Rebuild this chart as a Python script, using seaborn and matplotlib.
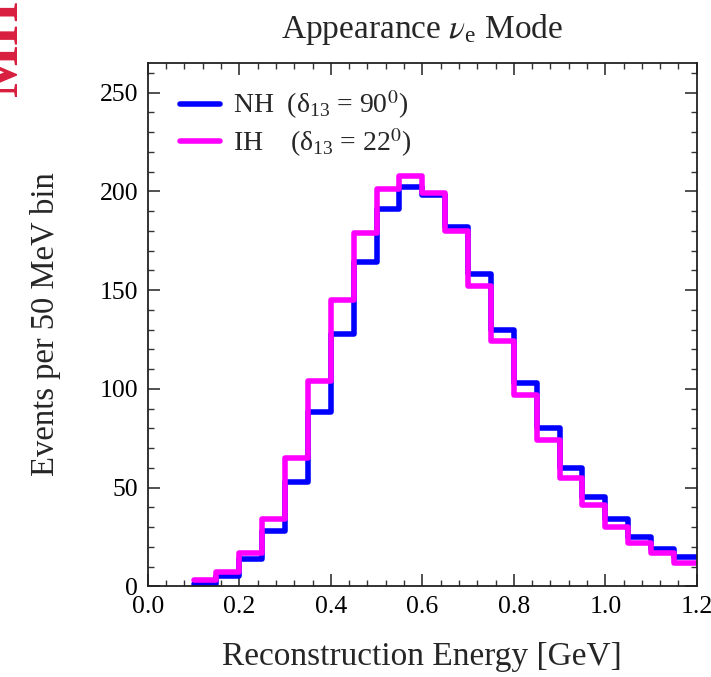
import numpy as np
import pandas as pd
import matplotlib
matplotlib.use("Agg")
import matplotlib.pyplot as plt
from matplotlib.ticker import MultipleLocator, FormatStrFormatter
import seaborn as sns

# bin edges of the reconstructed energy (GeV), 50 MeV bins
bin_edges = [0.10, 0.15, 0.20, 0.25, 0.30, 0.35, 0.40, 0.45, 0.50, 0.55, 0.60, 0.65,
             0.70, 0.75, 0.80, 0.85, 0.90, 0.95, 1.00, 1.05, 1.10, 1.15, 1.20]
bin_centers = [0.125, 0.175, 0.225, 0.275, 0.325, 0.375, 0.425, 0.475, 0.525, 0.575, 0.625,
               0.675, 0.725, 0.775, 0.825, 0.875, 0.925, 0.975, 1.025, 1.075, 1.125, 1.175]

nh_events = [1, 5, 14, 28, 53, 88, 128, 164, 191, 202, 198, 182,
             158, 130, 103, 80, 60, 45, 34, 25, 19, 15]
ih_events = [3, 7, 17, 34, 65, 104, 145, 179, 201, 208, 199, 180,
             152, 124, 97, 74, 55, 41, 30, 22, 17, 12]

nh_label = r"NH  ($\mathregular{\delta_{13}}$ = 90$^{0}$)"
ih_label = r"IH    ($\mathregular{\delta_{13}}$ = 22$^{0}$)"

sns.set_theme(style="ticks")
plt.rcParams["font.family"] = ["Liberation Serif", "DejaVu Serif"]
plt.rcParams["mathtext.fontset"] = "stix"

fig = plt.figure(figsize=(7.11, 6.77), dpi=100)
ax = fig.add_axes([0.208, 0.134, 0.772, 0.773])

nh = pd.DataFrame({"energy": bin_centers, "events": nh_events})
ih = pd.DataFrame({"energy": bin_centers, "events": ih_events})

sns.histplot(data=nh, x="energy", weights="events", bins=bin_edges, element="step",
             fill=False, color="#0000ff", linewidth=4, label=nh_label, ax=ax)
sns.histplot(data=ih, x="energy", weights="events", bins=bin_edges, element="step",
             fill=False, color="#ff00ff", linewidth=4, label=ih_label, ax=ax)

ax.set_xlim(0.0, 1.2)
ax.set_ylim(0, 265)
ax.xaxis.set_major_locator(MultipleLocator(0.2))
ax.xaxis.set_minor_locator(MultipleLocator(0.04))
ax.yaxis.set_major_locator(MultipleLocator(50))
ax.yaxis.set_minor_locator(MultipleLocator(10))
ax.xaxis.set_major_formatter(FormatStrFormatter("%.1f"))
ax.tick_params(which="both", direction="in", top=True, right=True, colors="#333333",
               labelcolor="black")
ax.tick_params(which="major", length=8.5, width=1.2, labelsize=18.5, pad=7)
ax.tick_params(which="minor", length=4, width=1.0)
for sp in ax.spines.values():
    sp.set_linewidth(1.3)
    sp.set_color("#222222")

ax.set_xlabel("Reconstruction Energy [GeV]", fontsize=24, labelpad=17)
ax.set_ylabel("Events per 50 MeV bin", fontsize=23.5, labelpad=28)
ax.set_title(r"Appearance $\nu_{\mathregular{e}}$ Mode", fontsize=24, pad=18)

ax.legend(loc="upper left", bbox_to_anchor=(0.018, 0.993), frameon=False, fontsize=20,
          handlelength=1.45, handletextpad=0.45, labelspacing=0.16, borderaxespad=0.4)
leg = ax.get_legend()
for h in leg.get_lines():
    h.set_linewidth(4)

fig.text(29 / 711, 1 - 0 / 677, "MH", rotation=90, ha="right", va="top",
         fontsize=40, fontweight="bold", color="#d81e3f",
         family=["Liberation Serif", "DejaVu Serif"])

fig.savefig("out.png", dpi=100)
